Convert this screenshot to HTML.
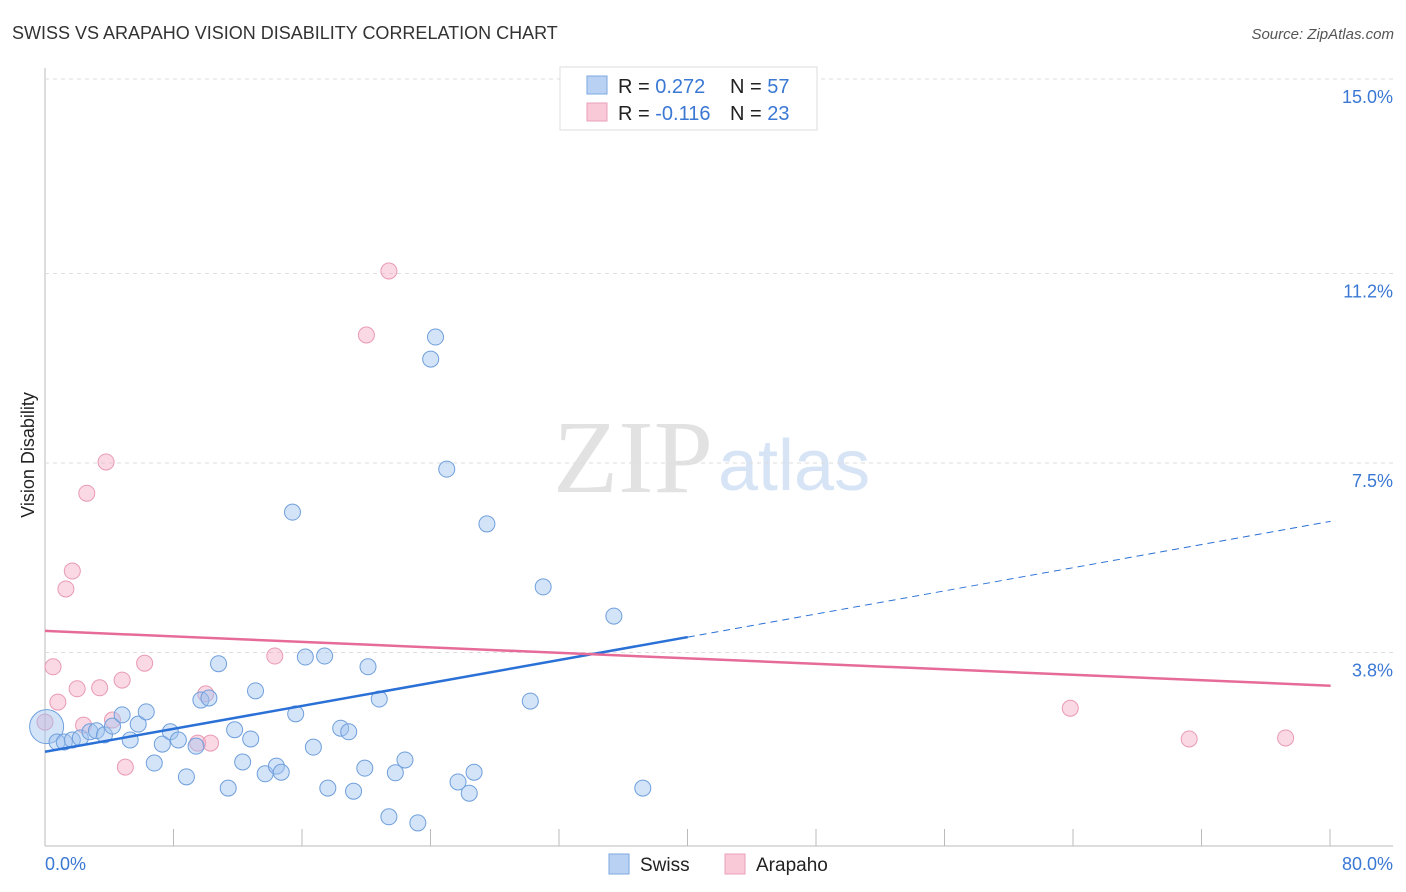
<!DOCTYPE html>
<html><head><meta charset="utf-8"><style>
body{margin:0;background:#fff;font-family:"Liberation Sans",sans-serif}
svg{display:block}
</style></head><body>
<svg id="chart" width="1406" height="892">
<text x="12" y="39" font-size="18" fill="#333">SWISS VS ARAPAHO VISION DISABILITY CORRELATION CHART</text>
<text x="1394" y="39" font-size="15" fill="#555" font-style="italic" text-anchor="end">Source: ZipAtlas.com</text>
<text x="553" y="492" font-size="104" fill="#e2e2e2" textLength="160" lengthAdjust="spacingAndGlyphs" font-family="Liberation Serif">ZIP</text>
<text x="718" y="490" font-size="72" fill="#d6e4f6">atlas</text>
<text transform="translate(34,455) rotate(-90)" font-size="18" fill="#222" text-anchor="middle">Vision Disability</text>
<g id="grid"></g><g id="marks"></g>
<g>
<rect x="560" y="67" width="257" height="63" fill="#fff" stroke="#ddd"/>
<rect x="587" y="76" width="20" height="18" fill="#b9d2f4" stroke="#7aa8e0"/>
<rect x="587" y="103" width="20" height="18" fill="#f9c9d7" stroke="#eaa0b8"/>
<text x="618" y="93" font-size="20" fill="#222">R = <tspan fill="#3a78d4">0.272</tspan><tspan x="730">N = </tspan><tspan fill="#3a78d4">57</tspan></text>
<text x="618" y="120" font-size="20" fill="#222">R = <tspan fill="#3a78d4">-0.116</tspan><tspan x="730">N = </tspan><tspan fill="#3a78d4">23</tspan></text>
</g>
<g>
<rect x="609" y="854" width="20" height="20" fill="#b9d2f4" stroke="#7aa8e0"/>
<text x="640" y="871" font-size="19" fill="#222">Swiss</text>
<rect x="725" y="854" width="20" height="20" fill="#f9c9d7" stroke="#eaa0b8"/>
<text x="756" y="871" font-size="19" fill="#222">Arapaho</text>
</g>
</svg>
<script>
const yTicks=[3.8,7.5,11.2,15.0];
const xTickLabels=["0.0%","80.0%"];
const swissX=[0.1,0.75,1.2,1.7,2.2,2.8,3.2,3.7,4.2,4.8,5.3,5.8,6.3,6.8,7.3,7.8,8.3,8.8,9.4,9.7,10.2,10.8,11.4,11.8,12.3,12.8,13.1,13.7,14.4,14.7,15.4,15.6,16.2,16.7,17.4,17.6,18.4,18.9,19.2,19.9,20.1,20.8,21.4,21.8,22.4,23.2,24.0,24.3,25.0,25.7,26.4,26.7,27.5,30.2,31.0,35.4,37.2];
const swissY=[2.35,2.05,2.05,2.09,2.13,2.25,2.27,2.19,2.36,2.58,2.09,2.40,2.64,1.64,2.01,2.25,2.09,1.37,1.97,2.87,2.91,3.58,1.15,2.29,1.66,2.11,3.05,1.43,1.58,1.46,6.54,2.60,3.71,1.95,3.73,1.15,2.32,2.25,1.09,1.54,3.52,2.89,0.59,1.45,1.70,0.47,9.53,9.96,7.38,1.27,1.05,1.46,6.31,2.85,5.08,4.51,1.15];
const arapahoX=[0.0,0.5,0.8,1.3,1.7,2.0,2.4,2.6,3.4,3.8,4.2,4.8,5.0,6.2,9.5,10.0,10.3,14.3,20.0,21.4,63.8,71.2,77.2];
const arapahoY=[2.44,3.52,2.83,5.04,5.39,3.09,2.38,6.91,3.11,7.52,2.48,3.26,1.56,3.59,2.03,2.99,2.03,3.73,10.00,11.25,2.71,2.11,2.13];
const swissLine=[[0,1.86],[40,4.1],[80,6.36]];
const arapahoLine=[[0,4.22],[80,3.15]];
const X=v=>45+v*16.07, Y=v=>847-v*51.2;
const NS="http://www.w3.org/2000/svg";
function mk(t,a,p){const e=document.createElementNS(NS,t);for(const k in a)e.setAttribute(k,a[k]);p.appendChild(e);return e;}
const grid=document.getElementById('grid'),marks=document.getElementById('marks');
mk('line',{x1:45,y1:68,x2:45,y2:846,stroke:'#bbb'},grid);
mk('line',{x1:45,y1:846,x2:1393,y2:846,stroke:'#bbb'},grid);
for(let i=0;i<=10;i++){mk('line',{x1:45+i*128.5,y1:829,x2:45+i*128.5,y2:846,stroke:'#bbb'},grid);}
yTicks.forEach(t=>{const y=Y(t);
const l=mk('line',{x1:45,y1:y,x2:1393,y2:y,stroke:'#ddd','stroke-dasharray':'4,4'},grid);


const tx=mk('text',{x:1393,y:y+24,'font-size':18,fill:'#3a78d4','text-anchor':'end'},grid);tx.textContent=t.toFixed(1)+'%';

});
const t0=mk('text',{x:45,y:870,'font-size':18,fill:'#3a78d4'},grid);t0.textContent=xTickLabels[0];


const t1=mk('text',{x:1393,y:870,'font-size':18,fill:'#3a78d4','text-anchor':'end'},grid);t1.textContent=xTickLabels[1];


arapahoX.forEach((x,i)=>{const c=mk('circle',{cx:X(x),cy:Y(arapahoY[i]),r:8,fill:'rgba(244,170,195,0.45)',stroke:'#e99ab4','stroke-width':1},marks);

});
swissX.forEach((x,i)=>{const c=mk('circle',{cx:X(x),cy:Y(swissY[i]),r:i==0?17:8,fill:'rgba(160,195,240,0.45)',stroke:'#6f9fdc','stroke-width':1},marks);

});
const sl=mk('line',{x1:X(swissLine[0][0]),y1:Y(swissLine[0][1]),x2:X(swissLine[1][0]),y2:Y(swissLine[1][1]),stroke:'#2a70d6','stroke-width':2.5},marks);


const sd=mk('line',{x1:X(swissLine[1][0]),y1:Y(swissLine[1][1]),x2:X(swissLine[2][0]),y2:Y(swissLine[2][1]),stroke:'#2a70d6','stroke-width':1,'stroke-dasharray':'7,5'},marks);


const al=mk('line',{x1:X(arapahoLine[0][0]),y1:Y(arapahoLine[0][1]),x2:X(arapahoLine[1][0]),y2:Y(arapahoLine[1][1]),stroke:'#e66b98','stroke-width':2.5},marks);


</script>
</body></html>
